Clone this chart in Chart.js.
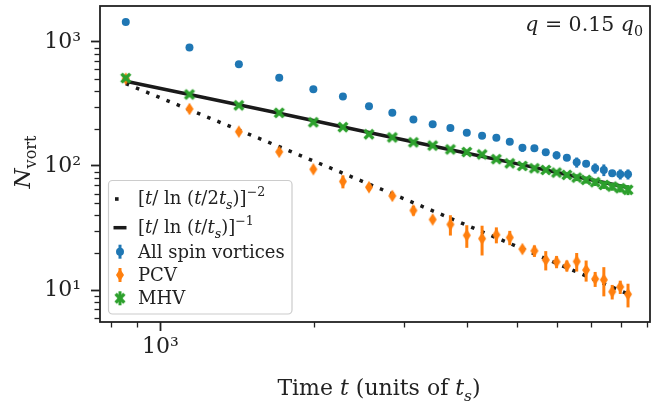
<!DOCTYPE html>
<html><head><meta charset="utf-8">
<script src="https://cdn.jsdelivr.net/npm/chart.js@4.4.0/dist/chart.umd.min.js"></script>
<style>html,body{margin:0;padding:0;background:#fff}#wrap{width:656px;height:405px}</style>
</head><body><div id="wrap"><canvas id="c" width="656" height="405"></canvas></div>
<script>
// ---- data ----
const times = [855,1140,1425,1710,1995,2280,2565,2850,3135,3420,3705,3990,4275,4560,4845,5130,5415,5700,5985,6270,6555,6840,7125,7410,7695,7980,8265];
const allSpin = [1443,903,659,515,415,363,303,268,237,217,202,185,175,169,157,140,139,129,122,116.6,107,104,95.8,92.9,87.3,85.8,85.8];
const allSpinErr = [8,6,5,4,3,3,3,3,3,3,3,3,3,5,6,10,8,6,9,5,10,6,9,10,5,8,8];
const pcv = [505,288,189,130,94,75,67.4,57.4,43.8,37,33.8,27.6,26,27.9,26.5,21.4,20.7,17.5,16.9,15.7,17.0,14.5,12.3,12.1,9.7,10.6,9.25];
const pcvErr = [12,6,3,3,2.5,9,4,2,4,1.5,6.3,5.7,7,4.1,3.5,1.2,2.2,3.1,1.9,1.6,2.9,2.8,1.7,3.2,1.3,1.3,2.0];
const mhv = [511,377,308,268,225,205.6,180,170,155,146,136,129.5,124,113.5,105,100,95.8,92.9,88.4,84.7,80.6,77.2,74.0,70.3,68.2,66.2,64.2];
const mhvErr = [4,3,3,3,3,3,2,2,2,2,2,2,2,3,3,4,4,3,4,4,5,5,5,5,5,5,6];
const fitT = [855,1140,1710,2565,3705,5130,6555,8265];
const fitLn1 = [482,377,266,186,135,102,82,67];
const fitLn2 = [461,284,143,71.5,37.9,21.5,14.0,9.3];
const xTicks = [800,900,1000,2000,3000,4000,5000,6000,7000,8000,9000];
const xTickLabels = {1000:'10³'};
const yTicks = [6,7,8,9,10,20,30,40,50,60,70,80,90,100,200,300,400,500,600,700,800,900,1000];
const yTickLabels = {10:'10¹',100:'10²',1000:'10³'};

const BLUE='#1f77b4', ORANGE='#ff7f0e', GREEN='#2ca02c', INK='#222222';
const SERIF='"DejaVu Serif"';

function makeDiamond(color){
  const c=document.createElement('canvas'); c.width=10; c.height=14;
  const g=c.getContext('2d'); g.fillStyle=color; g.beginPath();
  g.moveTo(5,0.8); g.lineTo(9,7); g.lineTo(5,13.2); g.lineTo(1,7); g.closePath(); g.fill();
  return c;
}
function makeX(color){
  const c=document.createElement('canvas'); c.width=14; c.height=14;
  const g=c.getContext('2d'); g.fillStyle=color; g.translate(7,7); g.rotate(Math.PI/4);
  const w=1.75, r=6.2;
  g.beginPath();
  [[-w,-r],[w,-r],[w,-w],[r,-w],[r,w],[w,w],[w,r],[-w,r],[-w,w],[-r,w],[-r,-w],[-w,-w]].forEach((p,i)=>i?g.lineTo(p[0],p[1]):g.moveTo(p[0],p[1]));
  g.closePath(); g.fill();
  return c;
}
const diamond = makeDiamond(ORANGE), xMark = makeX(GREEN);

const pts = (xs, ys) => xs.map((x,i)=>({x:x, y:ys[i]}));

function runFont(s,size){
  if(s==='i') return 'italic '+size+'px '+SERIF;
  if(s==='sub') return 'italic '+(size*0.7).toFixed(1)+'px '+SERIF;
  if(s==='subr'||s==='sup') return (size*0.7).toFixed(1)+'px '+SERIF;
  return size+'px '+SERIF;
}
function runDy(s,size){ if(s==='sub'||s==='subr') return size*0.25; if(s==='sup') return -size*0.42; return 0; }
function runsWidth(ctx,runs,size){ let w=0; runs.forEach(r=>{ctx.font=runFont(r[1],size); w+=ctx.measureText(r[0]).width;}); return w; }
function drawRuns(ctx,runs,x,y,size,align){
  let w=runsWidth(ctx,runs,size);
  let cx = align==='center'? x-w/2 : align==='right'? x-w : x;
  ctx.textBaseline='alphabetic'; ctx.textAlign='left';
  runs.forEach(r=>{ctx.font=runFont(r[1],size); ctx.fillText(r[0],cx,y+runDy(r[1],size)); cx+=ctx.measureText(r[0]).width;});
}

const errorBars = {
  id:'errorBars',
  beforeDatasetDraw(chart,args){
    const ds=chart.data.datasets[args.index];
    if(!ds.errors) return;
    const c=chart.ctx, xs=chart.scales.x, ys=chart.scales.y, a=chart.chartArea;
    c.save(); c.beginPath(); c.rect(a.left,a.top,a.right-a.left,a.bottom-a.top); c.clip();
    c.strokeStyle=ds.errColor; c.lineWidth=3; c.lineCap='butt';
    ds.data.forEach((p,i)=>{
      const e=ds.errors[i]; const px=xs.getPixelForValue(p.x);
      const lo=Math.max(p.y-e, 1e-3);
      c.beginPath(); c.moveTo(px, ys.getPixelForValue(lo)); c.lineTo(px, ys.getPixelForValue(p.y+e)); c.stroke();
    });
    c.restore();
  }
};

const decor = {
  id:'decor',
  afterDraw(chart){
    const c=chart.ctx, a=chart.chartArea, xs=chart.scales.x, ys=chart.scales.y;
    c.save();
    c.strokeStyle=INK; c.lineWidth=1.3;
    xTicks.forEach(v=>{ if(xTickLabels[v]) return; const px=Math.round(xs.getPixelForValue(v))+0.5; c.beginPath(); c.moveTo(px,a.bottom); c.lineTo(px,a.bottom+5.5); c.stroke(); });
    yTicks.forEach(v=>{ if(yTickLabels[v]) return; const py=Math.round(ys.getPixelForValue(v))+0.5; c.beginPath(); c.moveTo(a.left,py); c.lineTo(a.left-5.5,py); c.stroke(); });
    c.strokeStyle=INK; c.lineWidth=1.8;
    c.strokeRect(a.left, a.top, a.right-a.left, a.bottom-a.top);
    // legend box
    c.beginPath(); c.roundRect(108.5,180.5,183.5,133.5,4);
    c.fillStyle='rgba(255,255,255,0.8)'; c.fill();
    c.strokeStyle='#cccccc'; c.lineWidth=1.2; c.stroke();
    c.fillStyle='#1a1a1a'; c.fillRect(115,197.2,3.6,3.6);
    c.strokeStyle='#1a1a1a'; c.lineWidth=3.5; c.beginPath(); c.moveTo(113.5,227.7); c.lineTo(126.5,227.7); c.stroke();
    const hx=120;
    [[251.7,BLUE,'circle'],[275,ORANGE,diamond],[298.3,GREEN,xMark]].forEach(h=>{
      c.strokeStyle=h[1]; c.lineWidth=3; c.beginPath(); c.moveTo(hx,h[0]-7); c.lineTo(hx,h[0]+7); c.stroke();
      if(h[2]==='circle'){ c.fillStyle=h[1]; c.beginPath(); c.arc(hx,h[0],4,0,Math.PI*2); c.fill(); }
      else c.drawImage(h[2], hx-h[2].width/2, h[0]-h[2].height/2);
    });
    c.fillStyle=INK;
    const LS=18, tx=138;
    drawRuns(c,[['[','r'],['t','i'],['/ ln (','r'],['t','i'],['/2','r'],['t','i'],['s','sub'],[')]','r'],['−2','sup']],tx,204,LS,'left');
    drawRuns(c,[['[','r'],['t','i'],['/ ln (','r'],['t','i'],['/','r'],['t','i'],['s','sub'],[')]','r'],['−1','sup']],tx,233,LS,'left');
    drawRuns(c,[['All spin vortices','r']],tx,257.5,LS,'left');
    drawRuns(c,[['PCV','r']],tx,280.5,LS,'left');
    drawRuns(c,[['MHV','r']],tx,303.5,LS,'left');
    drawRuns(c,[['q','i'],[' = 0.15 ','r'],['q','i'],['0','subr']],643,31,20.5,'right');
    drawRuns(c,[['Time ','r'],['t','i'],[' (units of ','r'],['t','i'],['s','sub'],[')','r']],379,395,22,'center');
    c.translate(30,162); c.rotate(-Math.PI/2);
    drawRuns(c,[['N','i'],['vort','subr']],0,0,23,'center');
    c.restore();
  }
};

const tickFont = {family:'DejaVu Serif', size:22};
new Chart(document.getElementById('c'), {
  type:'scatter',
  data:{datasets:[
    {label:'[t/ ln (t/2ts)]^-2', data:pts(fitT,fitLn2), showLine:true, borderColor:'#1a1a1a', borderWidth:3.5, borderDash:[3.5,7.5], borderCapStyle:'butt', pointRadius:0, order:5},
    {label:'[t/ ln (t/ts)]^-1', data:pts(fitT,fitLn1), showLine:true, borderColor:'#1a1a1a', borderWidth:3.5, pointRadius:0, order:4},
    {label:'All spin vortices', data:pts(times,allSpin), pointStyle:'circle', pointRadius:4, backgroundColor:BLUE, borderWidth:0, errors:allSpinErr, errColor:BLUE, order:3},
    {label:'PCV', data:pts(times,pcv), pointStyle:diamond, pointRadius:6, backgroundColor:ORANGE, borderWidth:0, errors:pcvErr, errColor:ORANGE, order:2},
    {label:'MHV', data:pts(times,mhv), pointStyle:xMark, pointRadius:6, backgroundColor:GREEN, borderWidth:0, errors:mhvErr, errColor:GREEN, order:1}
  ]},
  options:{
    responsive:false, animation:false, devicePixelRatio:1,
    layout:{padding:{left:0,right:1,top:5,bottom:0}},
    plugins:{legend:{display:false}, tooltip:{enabled:false}},
    scales:{
      x:{type:'logarithmic', min:761, max:9128,
        afterBuildTicks:s=>{s.ticks=xTicks.map(v=>({value:v}));},
        afterFit:s=>{s.height=83; s.paddingLeft=0; s.paddingRight=0;},
        ticks:{autoSkip:false, maxRotation:0, minRotation:0, padding:3, color:INK, font:tickFont, callback:v=>xTickLabels[v]||''},
        grid:{drawOnChartArea:false, tickLength:9, tickWidth:1.8, tickColor:c=>(c.tick&&xTickLabels[c.tick.value])?INK:'rgba(0,0,0,0)'},
        border:{display:false}},
      y:{type:'logarithmic', min:5.53, max:1946,
        afterBuildTicks:s=>{s.ticks=yTicks.map(v=>({value:v}));},
        afterFit:s=>{s.width=100; s.paddingTop=0; s.paddingBottom=0;},
        ticks:{autoSkip:false, padding:10, color:INK, font:tickFont, callback:v=>yTickLabels[v]||''},
        grid:{drawOnChartArea:false, tickLength:9, tickWidth:1.8, tickColor:c=>(c.tick&&yTickLabels[c.tick.value])?INK:'rgba(0,0,0,0)'},
        border:{display:false}}
    }
  },
  plugins:[errorBars, decor]
});
</script></body></html>
